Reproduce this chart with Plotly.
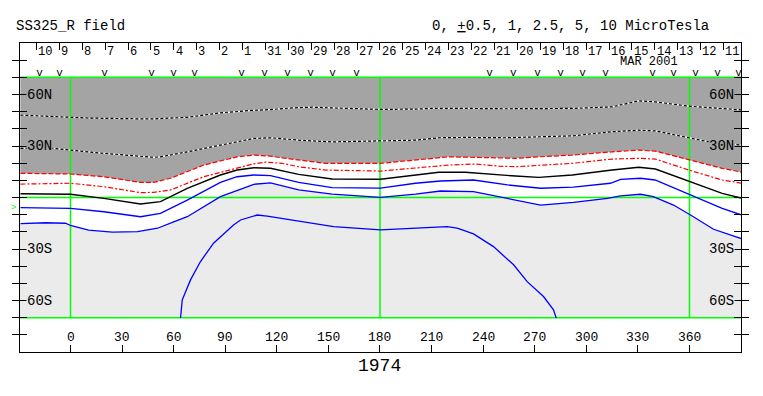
import plotly.graph_objects as go

# ---------------- data ----------------
A_lon = [-29.1, 0, 9.7, 40.7, 48.3, 67.9, 87.2, 106.4, 116.3, 129, 140.6, 152.2, 180.3, 200.6, 210.3, 229.7, 253, 291.8, 315, 330.5, 340.2, 359.6, 379, 390.6]
A_lat = [48.0, 46.7, 46.3, 45.8, 45.8, 46.7, 49.3, 50.8, 51.2, 52.2, 52.6, 52.2, 51.3, 51.5, 51.9, 51.9, 51.7, 51.9, 52.8, 56.3, 55.7, 53.2, 51.9, 51.0]

B_lon = [-29.1, -9.7, 0, 19.4, 48.5, 52.3, 67.9, 87.2, 106.6, 116.3, 132.7, 152.2, 180.3, 200.6, 214.2, 229.7, 253, 272.4, 291.8, 315, 330.5, 340.2, 359.6, 369.3, 390.6]
B_lat = [28.6, 28.6, 27.6, 25.7, 23.4, 23.7, 26.6, 30.5, 34.4, 34.8, 33.4, 32.4, 32.8, 33.4, 34.8, 35.0, 34.8, 35.3, 35.9, 38.3, 39.2, 38.8, 35.0, 32.8, 30.5]

C_lon = [-29.1, 0, 19.4, 40.7, 48.4, 58.2, 77.5, 96.9, 106.6, 116.3, 123.1, 132.7, 148.3, 180.3, 200.6, 220, 249, 258.8, 272.4, 291.8, 315, 330.5, 340.2, 359.6, 379, 390.6]
C_lat = [14.1, 13.7, 12.1, 8.8, 8.8, 11.2, 18.9, 23.7, 24.7, 24.1, 23.1, 21.8, 19.9, 19.9, 21.8, 23.7, 23.1, 22.8, 23.7, 24.7, 26.6, 27.6, 27.0, 21.8, 17.0, 14.7]

D_lon = [-29.1, 0, 19.4, 40.7, 48.4, 58.2, 77.5, 96.9, 106.6, 113.4, 123.1, 132.7, 148.3, 180.3, 200.6, 220, 235.5, 249, 258.8, 272.4, 291.8, 315, 330.5, 340.2, 359.6, 379, 390.6]
D_lat = [7.8, 8.3, 6.3, 2.8, 3.0, 4.4, 12.1, 17.4, 19.6, 20.6, 19.9, 17.9, 16.0, 15.4, 17.3, 18.9, 19.5, 18.3, 17.9, 18.9, 19.9, 22.4, 22.8, 22.4, 16.0, 10.2, 8.3]

E_lon = [-29.1, 0, 19.4, 40.7, 52.3, 67.9, 87.2, 96.9, 106.6, 116.3, 132.7, 152.2, 180.3, 200.6, 214.2, 229.7, 249, 258.8, 272.4, 291.8, 315, 330.5, 340.2, 359.6, 379, 390.6]
E_lat = [2.2, 1.9, -0.5, -3.8, -2.4, 5.3, 13.1, 16.0, 17.3, 17.0, 13.5, 10.8, 10.6, 13.1, 14.7, 14.7, 13.1, 12.5, 11.7, 13.1, 16.0, 17.6, 16.6, 9.6, 2.4, -0.5]

F_lon = [-29.1, 0, 19.4, 40.7, 52.3, 67.9, 87.2, 96.9, 106.6, 116.3, 132.7, 152.2, 180.3, 200.6, 215.2, 234.4, 254.2, 273.4, 292.5, 314, 320, 331.5, 340, 360.6, 379, 390.3]
F_lat = [-5.9, -6.3, -8.3, -11.2, -9.2, -1.5, 8.8, 12.1, 13.1, 12.7, 8.8, 5.7, 5.5, 8.3, 9.6, 10.2, 7.3, 5.4, 6.0, 8.3, 10.6, 11.2, 10.2, 1.5, -6.3, -10.2]

G_lon = [-29.1, -14.5, -2.9, 0, 10.5, 24.4, 39, 50.6, 60, 67.9, 87.2, 106.6, 116.3, 132.7, 152.2, 180.3, 200.6, 215.2, 234.4, 254.2, 273.4, 292.5, 312.3, 319.9, 331.5, 339, 350.7, 360.6, 374, 390.3]
G_lat = [-15.2, -14.7, -15.0, -16.3, -19.0, -20.2, -19.9, -17.9, -14.2, -11.2, 0.5, 7.7, 8.5, 4.4, 2.0, 0.1, 2.0, 3.8, 3.4, -0.5, -4.4, -2.8, -0.5, 1.0, 1.9, 0.5, -4.4, -10.2, -18.5, -24.0]

H_lon = [64.0, 65.0, 69.8, 75.6, 83.2, 94.8, 98.9, 108.6, 114.4, 133.8, 153.0, 180.3, 200.6, 219.1, 224.9, 234.4, 246.0, 257.7, 265.6, 275.1, 280.9, 282.5]
H_lat = [-70.2, -59.6, -48.0, -37.3, -26.6, -16.0, -13.1, -10.2, -10.8, -14.1, -17.0, -18.9, -17.9, -17.0, -17.9, -21.2, -28.6, -39.2, -49.0, -57.7, -65.4, -70.2]

# observation-day markers ("v") longitudes
v_lons = [-18.0, -6.4, 19.8, 47.1, 59.9, 72.1, 99.5, 112.8, 126.2, 139.6, 152.4, 166.3,
          243.7, 257.6, 271.6, 285.0, 297.8, 311.2, 338.5, 350.7, 363.5, 376.3, 388.5]

# date labels along the top
date_labels = ["10", "9", "8", "7", "6", "5", "4", "3", "2", "1", "31", "30", "29", "28", "27",
               "26", "25", "24", "23", "22", "21", "20", "19", "18", "17", "16", "15", "14", "13", "12", "11"]
date_start_lon = -19.8
date_step = 13.32
date_ticks = [date_start_lon + date_step * i for i in range(len(date_labels))]

x_ticks = [0, 30, 60, 90, 120, 150, 180, 210, 240, 270, 300, 330, 360]
x_tick_labels = [str(v) for v in x_ticks]
lat_ticks = [-80, -70, -60, -50, -40, -30, -20, -10, 0, 10, 20, 30, 40, 50, 60, 70, 80]
lat_labels = {60: "60N", 30: "30N", -30: "30S", -60: "60S"}

XMIN, XMAX = -29.37, 389.96
DARK = "#a4a4a4"
LIGHT = "#ebebeb"
GREEN = "#00ff00"
FONT = "Liberation Mono, DejaVu Sans Mono, monospace"

fig = go.Figure()

# light gray band (-70..70)
fig.add_shape(type="rect", xref="x", yref="y", x0=XMIN, x1=XMAX, y0=-70, y1=70,
              fillcolor=LIGHT, line_width=0, layer="below")

# white region between C and G
fig.add_trace(go.Scatter(x=C_lon + G_lon[::-1], y=C_lat + G_lat[::-1], fill="toself",
                         fillcolor="white", line=dict(width=0), mode="lines", hoverinfo="skip"))
# dark gray region above C
fig.add_trace(go.Scatter(x=C_lon + [C_lon[-1], C_lon[0]], y=C_lat + [70, 70], fill="toself",
                         fillcolor=DARK, line=dict(width=0), mode="lines", hoverinfo="skip"))

# green reference lines
gx = [XMIN, XMAX, None, XMIN, XMAX, None, XMIN, XMAX, None, 0, 0, None, 180, 180, None, 360, 360]
gy = [70, 70, None, 0, 0, None, -70, -70, None, -70, 70, None, -70, 70, None, -70, 70]
fig.add_trace(go.Scatter(x=gx, y=gy, mode="lines", line=dict(color=GREEN, width=1.5), hoverinfo="skip"))

# white/black dotted lines in gray region
for lo, la in [(A_lon, A_lat), (B_lon, B_lat)]:
    fig.add_trace(go.Scatter(x=lo, y=la, mode="lines", line=dict(color="white", width=1.2)))
    fig.add_trace(go.Scatter(x=lo, y=la, mode="lines", line=dict(color="black", width=1.2, dash="3px,2px")))

# red lines
fig.add_trace(go.Scatter(x=C_lon, y=C_lat, mode="lines", line=dict(color="red", width=1.2, dash="5px,2px")))
fig.add_trace(go.Scatter(x=D_lon, y=D_lat, mode="lines", line=dict(color="red", width=1.2, dash="5px,2px,2px,2px")))
# black zero line
fig.add_trace(go.Scatter(x=E_lon, y=E_lat, mode="lines", line=dict(color="black", width=1.4)))
# blue lines
for lo, la in [(F_lon, F_lat), (G_lon, G_lat), (H_lon, H_lat)]:
    fig.add_trace(go.Scatter(x=lo, y=la, mode="lines", line=dict(color="#0000ff", width=1.3)))

# v markers (on top axis x2)
fig.add_trace(go.Scatter(x=v_lons, y=[72.3] * len(v_lons), mode="text", text=["v"] * len(v_lons),
                         textfont=dict(family=FONT, size=11, color="black"), xaxis="x2",
                         hoverinfo="skip"))

ann = []
# x tick labels
for v, t in zip(x_ticks, x_tick_labels):
    ann.append(dict(x=v, y=-81.6, xref="x", yref="y", text=t, showarrow=False,
                    font=dict(family=FONT, size=13, color="black"), xanchor="center", yanchor="middle"))
# latitude labels both sides
for lat, t in lat_labels.items():
    bg = DARK if lat > 0 else LIGHT
    ann.append(dict(x=-25.6, y=lat, xref="x", yref="y", text=t, showarrow=False, bgcolor=bg,
                    font=dict(family=FONT, size=14, color="black"), xanchor="left", yanchor="middle",
                    borderpad=0))
    ann.append(dict(x=386.4, y=lat, xref="x", yref="y", text=t, showarrow=False, bgcolor=bg,
                    font=dict(family=FONT, size=14, color="black"), xanchor="right", yanchor="middle",
                    borderpad=0))
# date labels
for d, t in zip(date_ticks, date_labels):
    ann.append(dict(x=d + 0.4, y=84.8, xref="x", yref="y", text=t, showarrow=False,
                    font=dict(family=FONT, size=12, color="black"), xanchor="left", yanchor="middle",
                    borderpad=0))
ann.append(dict(x=0.872, y=0.9385, xref="paper", yref="paper", text="MAR 2001", showarrow=False,
                font=dict(family=FONT, size=12, color="black"), xanchor="center", yanchor="middle",
                borderpad=0))
# titles
ann.append(dict(x=-0.0069, y=1.0534, xref="paper", yref="paper", text="SS325_R field", showarrow=False,
                font=dict(family=FONT, size=14, color="black"), xanchor="left", yanchor="middle", borderpad=0))
ann.append(dict(x=0.957, y=1.0534, xref="paper", yref="paper",
                text="0, <u>+</u>0.5, 1, 2.5, 5, 10 MicroTesla", showarrow=False,
                font=dict(family=FONT, size=14, color="black"), xanchor="right", yanchor="middle", borderpad=0))
ann.append(dict(x=0.4986, y=-0.0453, xref="paper", yref="paper", text="1974", showarrow=False,
                font=dict(family=FONT, size=18, color="black"), xanchor="center", yanchor="middle"))
# observer latitude marker
ann.append(dict(x=-0.004, y=-6.1, xref="paper", yref="y", text=">", showarrow=False,
                font=dict(family=FONT, size=9, color=GREEN), xanchor="right", yanchor="middle", borderpad=0))

# The page body has an 8px margin, so the figure is offset by (8, 8) in the window.
fig.update_layout(
    width=755, height=388,
    margin=dict(l=12, r=22, t=35, b=44),
    paper_bgcolor="white", plot_bgcolor="white",
    showlegend=False,
    annotations=ann,
    xaxis=dict(range=[XMIN, XMAX], tickvals=x_ticks, ticks="inside", ticklen=7, tickcolor="black",
               showticklabels=False, showline=True, linecolor="black", linewidth=1, mirror=True,
               showgrid=False, zeroline=False, fixedrange=True),
    xaxis2=dict(range=[XMIN, XMAX], overlaying="x", side="top", tickvals=date_ticks, ticks="inside",
                ticklen=7, tickcolor="black", showticklabels=False, showline=False, showgrid=False,
                zeroline=False, matches="x"),
    yaxis=dict(range=[-90, 90], tickvals=lat_ticks, ticks="inside", ticklen=7, tickcolor="black",
               showticklabels=False, showline=True, linecolor="black", linewidth=1, mirror="allticks",
               showgrid=False, zeroline=False, fixedrange=True),
)

fig.write_html("out.html")
